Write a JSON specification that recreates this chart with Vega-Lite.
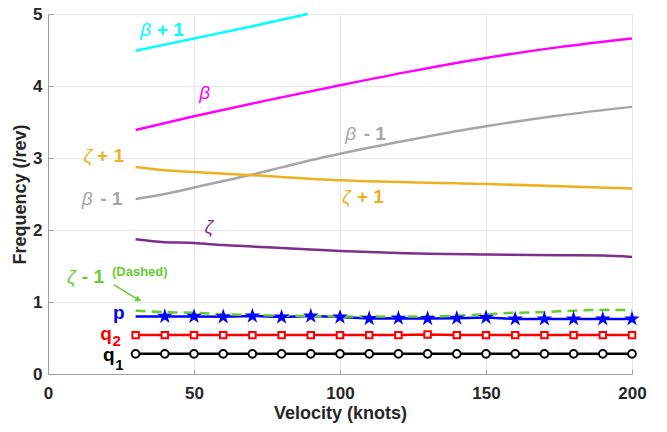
{
  "$schema": "https://vega.github.io/schema/vega-lite/v6.json",
  "width": 584,
  "height": 360,
  "autosize": {"type": "none"},
  "padding": {"left": 48, "top": 14, "right": 35, "bottom": 58},
  "background": "white",
  "view": {"stroke": null},
  "config": {
    "font": "Liberation Sans",
    "axis": {
      "labelFont": "Liberation Sans",
      "labelFontWeight": "bold",
      "labelFontSize": 17,
      "labelColor": "#262626",
      "titleFont": "Liberation Sans",
      "titleFontWeight": "bold",
      "titleFontSize": 18,
      "titleColor": "#262626",
      "domainColor": "#a0a0a0",
      "tickColor": "#a0a0a0",
      "tickSize": -5,
      "gridColor": "#e8e8e8",
      "labelFlush": false,
      "labelOverlap": false
    }
  },
  "datasets": {
    "curves": [
      {"curve": "β + 1", "v": 30, "f": 4.49}, {"curve": "β + 1", "v": 50, "f": 4.66}, {"curve": "β + 1", "v": 70, "f": 4.83}, {"curve": "β + 1", "v": 89, "f": 5.0},
      {"curve": "β", "v": 30, "f": 3.39}, {"curve": "β", "v": 50, "f": 3.58}, {"curve": "β", "v": 75, "f": 3.8}, {"curve": "β", "v": 100, "f": 4.01}, {"curve": "β", "v": 125, "f": 4.21}, {"curve": "β", "v": 150, "f": 4.39}, {"curve": "β", "v": 175, "f": 4.54}, {"curve": "β", "v": 200, "f": 4.66},
      {"curve": "β - 1", "v": 30, "f": 2.43}, {"curve": "β - 1", "v": 40, "f": 2.5}, {"curve": "β - 1", "v": 50, "f": 2.59}, {"curve": "β - 1", "v": 60, "f": 2.68}, {"curve": "β - 1", "v": 70, "f": 2.77}, {"curve": "β - 1", "v": 80, "f": 2.87}, {"curve": "β - 1", "v": 90, "f": 2.97}, {"curve": "β - 1", "v": 100, "f": 3.06}, {"curve": "β - 1", "v": 125, "f": 3.26}, {"curve": "β - 1", "v": 150, "f": 3.44}, {"curve": "β - 1", "v": 175, "f": 3.59}, {"curve": "β - 1", "v": 200, "f": 3.71},
      {"curve": "ζ + 1", "v": 30, "f": 2.875}, {"curve": "ζ + 1", "v": 40, "f": 2.83}, {"curve": "ζ + 1", "v": 50, "f": 2.805}, {"curve": "ζ + 1", "v": 70, "f": 2.76}, {"curve": "ζ + 1", "v": 100, "f": 2.69}, {"curve": "ζ + 1", "v": 150, "f": 2.64}, {"curve": "ζ + 1", "v": 200, "f": 2.575},
      {"curve": "ζ", "v": 30, "f": 1.87}, {"curve": "ζ", "v": 40, "f": 1.83}, {"curve": "ζ", "v": 50, "f": 1.82}, {"curve": "ζ", "v": 60, "f": 1.79}, {"curve": "ζ", "v": 70, "f": 1.77}, {"curve": "ζ", "v": 80, "f": 1.75}, {"curve": "ζ", "v": 90, "f": 1.73}, {"curve": "ζ", "v": 100, "f": 1.71}, {"curve": "ζ", "v": 120, "f": 1.68}, {"curve": "ζ", "v": 150, "f": 1.66}, {"curve": "ζ", "v": 175, "f": 1.65}, {"curve": "ζ", "v": 190, "f": 1.645}, {"curve": "ζ", "v": 200, "f": 1.625},
      {"curve": "ζ - 1", "v": 30, "f": 0.88}, {"curve": "ζ - 1", "v": 40, "f": 0.86}, {"curve": "ζ - 1", "v": 50, "f": 0.85}, {"curve": "ζ - 1", "v": 60, "f": 0.83}, {"curve": "ζ - 1", "v": 70, "f": 0.82}, {"curve": "ζ - 1", "v": 80, "f": 0.81}, {"curve": "ζ - 1", "v": 90, "f": 0.805}, {"curve": "ζ - 1", "v": 100, "f": 0.8}, {"curve": "ζ - 1", "v": 110, "f": 0.8}, {"curve": "ζ - 1", "v": 120, "f": 0.8}, {"curve": "ζ - 1", "v": 130, "f": 0.8}, {"curve": "ζ - 1", "v": 140, "f": 0.81}, {"curve": "ζ - 1", "v": 150, "f": 0.83}, {"curve": "ζ - 1", "v": 160, "f": 0.85}, {"curve": "ζ - 1", "v": 170, "f": 0.86}, {"curve": "ζ - 1", "v": 180, "f": 0.88}, {"curve": "ζ - 1", "v": 190, "f": 0.89}, {"curve": "ζ - 1", "v": 200, "f": 0.89},
      {"curve": "p", "v": 30, "f": 0.8}, {"curve": "p", "v": 40, "f": 0.8}, {"curve": "p", "v": 50, "f": 0.8}, {"curve": "p", "v": 60, "f": 0.795}, {"curve": "p", "v": 70, "f": 0.805}, {"curve": "p", "v": 80, "f": 0.79}, {"curve": "p", "v": 90, "f": 0.805}, {"curve": "p", "v": 100, "f": 0.79}, {"curve": "p", "v": 110, "f": 0.77}, {"curve": "p", "v": 120, "f": 0.775}, {"curve": "p", "v": 130, "f": 0.77}, {"curve": "p", "v": 140, "f": 0.775}, {"curve": "p", "v": 150, "f": 0.785}, {"curve": "p", "v": 160, "f": 0.765}, {"curve": "p", "v": 170, "f": 0.765}, {"curve": "p", "v": 180, "f": 0.765}, {"curve": "p", "v": 190, "f": 0.765}, {"curve": "p", "v": 200, "f": 0.765},
      {"curve": "q2", "v": 30, "f": 0.54}, {"curve": "q2", "v": 40, "f": 0.54}, {"curve": "q2", "v": 50, "f": 0.54}, {"curve": "q2", "v": 60, "f": 0.54}, {"curve": "q2", "v": 70, "f": 0.54}, {"curve": "q2", "v": 80, "f": 0.54}, {"curve": "q2", "v": 90, "f": 0.54}, {"curve": "q2", "v": 100, "f": 0.54}, {"curve": "q2", "v": 110, "f": 0.54}, {"curve": "q2", "v": 120, "f": 0.54}, {"curve": "q2", "v": 130, "f": 0.55}, {"curve": "q2", "v": 140, "f": 0.54}, {"curve": "q2", "v": 150, "f": 0.54}, {"curve": "q2", "v": 160, "f": 0.54}, {"curve": "q2", "v": 170, "f": 0.54}, {"curve": "q2", "v": 180, "f": 0.54}, {"curve": "q2", "v": 190, "f": 0.54}, {"curve": "q2", "v": 200, "f": 0.54},
      {"curve": "q1", "v": 30, "f": 0.28}, {"curve": "q1", "v": 40, "f": 0.28}, {"curve": "q1", "v": 50, "f": 0.28}, {"curve": "q1", "v": 60, "f": 0.28}, {"curve": "q1", "v": 70, "f": 0.28}, {"curve": "q1", "v": 80, "f": 0.28}, {"curve": "q1", "v": 90, "f": 0.28}, {"curve": "q1", "v": 100, "f": 0.28}, {"curve": "q1", "v": 110, "f": 0.28}, {"curve": "q1", "v": 120, "f": 0.28}, {"curve": "q1", "v": 130, "f": 0.28}, {"curve": "q1", "v": 140, "f": 0.28}, {"curve": "q1", "v": 150, "f": 0.28}, {"curve": "q1", "v": 160, "f": 0.28}, {"curve": "q1", "v": 170, "f": 0.28}, {"curve": "q1", "v": 180, "f": 0.28}, {"curve": "q1", "v": 190, "f": 0.28}, {"curve": "q1", "v": 200, "f": 0.28}
    ],
    "labels": [
      {"curve": "β + 1", "kind": "greek", "text": "β", "v": 31.6, "f": 4.7},
      {"curve": "β + 1", "kind": "bold", "text": "+ 1", "v": 37.3, "f": 4.7},
      {"curve": "β", "kind": "greek", "text": "β", "v": 51.8, "f": 3.82},
      {"curve": "ζ + 1", "kind": "greek", "text": "ζ", "v": 12.2, "f": 2.94},
      {"curve": "ζ + 1", "kind": "bold", "text": "+ 1", "v": 16.8, "f": 2.94},
      {"curve": "β - 1", "kind": "greek", "text": "β", "v": 11.6, "f": 2.35},
      {"curve": "β - 1", "kind": "bold", "text": "- 1", "v": 17.9, "f": 2.35},
      {"curve": "β - 1", "kind": "greek", "text": "β", "v": 101.8, "f": 3.25},
      {"curve": "β - 1", "kind": "bold", "text": "- 1", "v": 108.1, "f": 3.25},
      {"curve": "ζ + 1", "kind": "greek", "text": "ζ", "v": 100.7, "f": 2.375},
      {"curve": "ζ + 1", "kind": "bold", "text": "+ 1", "v": 105.8, "f": 2.375},
      {"curve": "ζ", "kind": "greek", "text": "ζ", "v": 53.6, "f": 1.96},
      {"curve": "ζ - 1", "kind": "greek", "text": "ζ", "v": 6.5, "f": 1.264},
      {"curve": "ζ - 1", "kind": "bold", "text": "- 1", "v": 11.6, "f": 1.264},
      {"curve": "ζ - 1", "kind": "note", "text": "(Dashed)", "v": 21.9, "f": 1.356},
      {"curve": "p", "kind": "bold", "text": "p", "v": 22.3, "f": 0.76},
      {"curve": "q2", "kind": "bold", "text": "q", "v": 17.9, "f": 0.476},
      {"curve": "q2", "kind": "sub", "text": "2", "v": 22.1, "f": 0.383},
      {"curve": "q1", "kind": "bold", "text": "q", "v": 18.8, "f": 0.175},
      {"curve": "q1", "kind": "sub", "text": "1", "v": 23.0, "f": 0.06}
    ],
    "arrow": [
      {"curve": "ζ - 1", "v": 22.5, "f": 1.24, "v2": 31.0, "f2": 1.03}
    ]
  },
  "encoding": {
    "x": {
      "field": "v", "type": "quantitative",
      "scale": {"domain": [0, 200], "nice": false, "zero": false},
      "axis": {"values": [0, 50, 100, 150, 200], "title": "Velocity (knots)", "labelPadding": 16, "titlePadding": 3, "grid": true}
    },
    "y": {
      "field": "f", "type": "quantitative",
      "scale": {"domain": [0, 5], "nice": false, "zero": false},
      "axis": {"values": [0, 1, 2, 3, 4, 5], "title": "Frequency (/rev)", "labelPadding": 11, "titlePadding": 3, "grid": true}
    },
    "color": {
      "field": "curve", "type": "nominal", "legend": null,
      "scale": {
        "domain": ["β + 1", "β", "β - 1", "ζ + 1", "ζ", "ζ - 1", "p", "q2", "q1"],
        "range": ["#00FFFF", "#FF00FF", "#A6A6A6", "#EDB120", "#7E2F8E", "#66CC33", "#0000FF", "#FF0000", "#000000"]
      }
    }
  },
  "layer": [
    {
      "data": {"name": "curves"},
      "transform": [{"filter": {"field": "curve", "oneOf": ["β + 1", "β", "β - 1", "ζ + 1", "ζ"]}}],
      "mark": {"type": "line", "strokeWidth": 2.5, "interpolate": "monotone"}
    },
    {
      "data": {"name": "curves"},
      "transform": [{"filter": {"field": "curve", "oneOf": ["p", "q2", "q1"]}}],
      "mark": {"type": "line", "strokeWidth": 2.5}
    },
    {
      "data": {"name": "curves"},
      "transform": [{"filter": {"field": "curve", "equal": "ζ - 1"}}],
      "mark": {"type": "line", "strokeWidth": 2.5, "strokeDash": [10, 6], "interpolate": "monotone"}
    },
    {
      "data": {"name": "curves"},
      "transform": [{"filter": {"field": "curve", "equal": "q1"}}],
      "mark": {"type": "point", "shape": "circle", "size": 60, "fill": "white", "stroke": "black", "strokeWidth": 2, "opacity": 1}
    },
    {
      "data": {"name": "curves"},
      "transform": [{"filter": {"field": "curve", "equal": "q2"}}],
      "mark": {"type": "point", "shape": "square", "size": 42, "fill": "white", "stroke": "#FF0000", "strokeWidth": 2, "opacity": 1}
    },
    {
      "data": {"name": "curves"},
      "transform": [{"filter": {"field": "curve", "equal": "p"}}, {"filter": {"field": "v", "gte": 40}}],
      "mark": {
        "type": "point",
        "shape": "M0,-1L0.225,-0.309L0.951,-0.309L0.363,0.118L0.588,0.809L0,0.382L-0.588,0.809L-0.363,0.118L-0.951,-0.309L-0.225,-0.309Z",
        "size": 270, "filled": true, "opacity": 1
      }
    },
    {
      "data": {"name": "arrow"},
      "mark": {"type": "rule", "strokeWidth": 1.5},
      "encoding": {
        "x2": {"field": "v2"},
        "y2": {"field": "f2"}
      }
    },
    {
      "data": {"name": "arrow"},
      "mark": {"type": "point", "shape": "triangle-right", "size": 45, "filled": true, "opacity": 1, "angle": 29},
      "encoding": {
        "x": {"field": "v2", "type": "quantitative"},
        "y": {"field": "f2", "type": "quantitative"}
      }
    },
    {
      "data": {"name": "labels"},
      "transform": [{"filter": {"field": "kind", "equal": "greek"}}],
      "mark": {"type": "text", "align": "left", "baseline": "alphabetic", "fontSize": 19, "fontStyle": "italic", "fontWeight": "normal"},
      "encoding": {"text": {"field": "text"}}
    },
    {
      "data": {"name": "labels"},
      "transform": [{"filter": {"field": "kind", "equal": "bold"}}],
      "mark": {"type": "text", "align": "left", "baseline": "alphabetic", "fontSize": 19, "fontWeight": "bold"},
      "encoding": {"text": {"field": "text"}}
    },
    {
      "data": {"name": "labels"},
      "transform": [{"filter": {"field": "kind", "equal": "sub"}}],
      "mark": {"type": "text", "align": "left", "baseline": "alphabetic", "fontSize": 15, "fontWeight": "bold"},
      "encoding": {"text": {"field": "text"}}
    },
    {
      "data": {"name": "labels"},
      "transform": [{"filter": {"field": "kind", "equal": "note"}}],
      "mark": {"type": "text", "align": "left", "baseline": "alphabetic", "fontSize": 13, "fontWeight": "bold"},
      "encoding": {"text": {"field": "text"}}
    }
  ]
}
